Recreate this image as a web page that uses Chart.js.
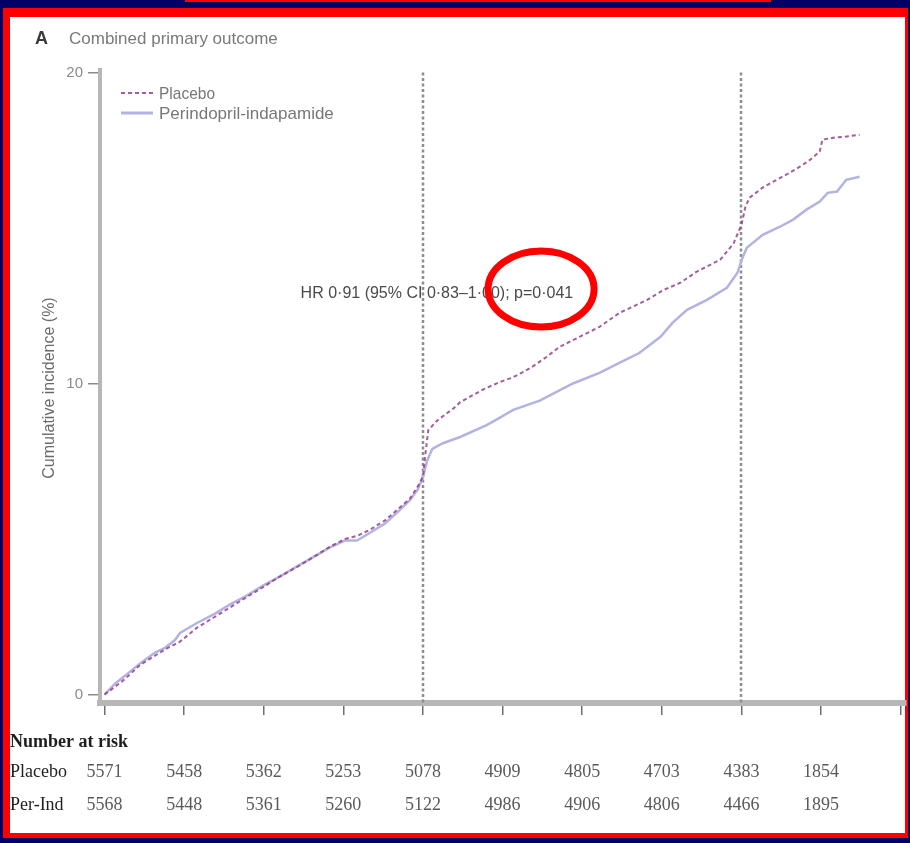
<!DOCTYPE html>
<html>
<head>
<meta charset="utf-8">
<title>Combined primary outcome</title>
<script src="https://cdn.jsdelivr.net/npm/chart.js@4.4.1/dist/chart.umd.min.js"></script>
<style>
  html, body { margin: 0; padding: 0; }
  body { width: 910px; height: 843px; background: #000066; position: relative; overflow: hidden; }
  .topline { position: absolute; left: 185px; top: 0; width: 586px; height: 2px; background: #ff0000; }
  .frame { position: absolute; left: 3px; top: 8px; width: 905px; height: 830px; background: #ff0000; }
  .paper { position: absolute; left: 10px; top: 17px; width: 895px; height: 816px; background: #ffffff; }
  canvas { position: absolute; left: 0; top: 0; }
</style>
</head>
<body>
<div class="topline"></div>
<div class="frame"></div>
<div class="paper"></div>
<canvas id="km" width="910" height="843"></canvas>
<script>
// Cumulative incidence (%) by months of follow-up
const placeboMonths = [0, 0.79, 1.54, 2.68, 3.81, 4.56, 5.69, 6.97, 8.33, 9.46, 10.59, 11.94, 13.23, 14.51,
  15.86, 16.99, 18.12, 19.03, 20.01, 21.14, 22.04, 23.02, 23.62, 24.0, 24.2, 24.4, 25.1, 26.3, 26.8, 28.5,
  29.8, 30.8, 32.1, 33.3, 34.3, 35.8, 37.3, 38.8, 40.9, 42.1, 43.4, 44.6, 46.4, 47.4, 48.0, 48.3, 48.6,
  49.6, 50.4, 51.4, 52.4, 53.2, 53.9, 54.1, 54.9, 55.9, 56.9];
const placeboPct = [0, 0.25, 0.5, 0.95, 1.25, 1.45, 1.7, 2.15, 2.5, 2.8, 3.1, 3.45, 3.8, 4.1,
  4.45, 4.75, 5.0, 5.1, 5.3, 5.6, 5.93, 6.3, 6.7, 7.0, 7.8, 8.5, 8.82, 9.2, 9.4, 9.8,
  10.05, 10.2, 10.5, 10.85, 11.18, 11.5, 11.82, 12.27, 12.69, 13.0, 13.24, 13.59, 13.98, 14.5, 15.1, 15.68, 15.97,
  16.3, 16.49, 16.72, 16.97, 17.2, 17.46, 17.84, 17.9, 17.94, 18.0];

const perIndMonths = [0, 0.79, 1.54, 2.68, 3.81, 4.56, 5.31, 5.69, 6.97, 8.33, 9.46, 10.59, 11.94, 13.23,
  14.51, 15.86, 16.99, 18.12, 19.03, 20.01, 21.14, 22.04, 23.02, 23.62, 24.0, 24.3, 24.7, 25.5, 26.8, 28.8,
  29.8, 30.8, 32.8, 35.3, 37.3, 38.8, 40.3, 41.9, 42.8, 43.9, 45.4, 46.9, 47.7, 48.1, 48.4, 49.6, 50.9,
  51.9, 52.9, 53.9, 54.5, 55.2, 55.9, 56.9];
const perIndPct = [0, 0.35, 0.6, 1.0, 1.35, 1.5, 1.75, 1.98, 2.3, 2.6, 2.9, 3.15, 3.5, 3.8,
  4.12, 4.45, 4.73, 4.95, 4.95, 5.2, 5.5, 5.85, 6.25, 6.6, 7.0, 7.5, 7.9, 8.08, 8.28, 8.66,
  8.9, 9.15, 9.45, 10.0, 10.34, 10.66, 10.98, 11.5, 11.95, 12.37, 12.69, 13.08, 13.56, 14.07, 14.36, 14.78, 15.04,
  15.27, 15.59, 15.85, 16.13, 16.17, 16.55, 16.65];

// Number at risk
const riskMonths = [0, 6, 12, 18, 24, 30, 36, 42, 48, 54];
const placeboRisk = [5571, 5458, 5362, 5253, 5078, 4909, 4805, 4703, 4383, 1854];
const perIndRisk = [5568, 5448, 5361, 5260, 5122, 4986, 4906, 4806, 4466, 1895];

const xTicks = [0, 6, 12, 18, 24, 30, 36, 42, 48, 54, 60];
const yTicks = [0, 10, 20];
const markerMonths = [24, 48];

const seriesNames = ['Placebo', 'Perindopril-indapamide'];
const riskRowNames = ['Placebo', 'Per-Ind'];
const titleLetter = 'A';
const titleText = 'Combined primary outcome';
const yTitle = 'Cumulative incidence (%)';
const hrText = 'HR 0\u00b791 (95% CI 0\u00b783\u20131\u00b700); p=0\u00b7041';
const hrAt = { x: 25.05, y: 12.88 };
const circleAt = { x: 32.9, y: 13.04 };

const toPoints = (xs, ys) => xs.map((x, i) => ({ x: x, y: ys[i] }));

const placeboColor = 'rgba(148,66,136,0.85)';
const perIndColor = '#b3b3e3';

const overlay = {
  id: 'overlay',
  beforeDatasetsDraw(chart) {
    const { ctx, scales: { x, y }, chartArea } = chart;
    ctx.save();
    ctx.strokeStyle = '#8d8d8d';
    ctx.lineWidth = 2.5;
    ctx.setLineDash([3, 2.5]);
    markerMonths.forEach(m => {
      const px = Math.round(x.getPixelForValue(m));
      ctx.beginPath();
      ctx.moveTo(px, y.getPixelForValue(20));
      ctx.lineTo(px, chartArea.bottom);
      ctx.stroke();
    });
    ctx.restore();
  },
  afterDraw(chart) {
    const { ctx, scales: { x, y } } = chart;
    ctx.save();

    // panel heading
    ctx.textBaseline = 'alphabetic';
    ctx.textAlign = 'left';
    ctx.fillStyle = '#3a3a3a';
    ctx.font = 'bold 18px "Liberation Sans", Arial, sans-serif';
    ctx.fillText(titleLetter, 35, 44);
    ctx.fillStyle = '#7a7a7a';
    ctx.font = '17px "Liberation Sans", Arial, sans-serif';
    ctx.fillText(titleText, 69, 44, 212);

    // y axis title
    ctx.save();
    ctx.translate(50, 388);
    ctx.rotate(-Math.PI / 2);
    ctx.textAlign = 'center';
    ctx.textBaseline = 'middle';
    ctx.fillStyle = '#6a6a6a';
    ctx.font = '16px "Liberation Sans", Arial, sans-serif';
    ctx.fillText(yTitle, 0, 0, 200);
    ctx.restore();

    // legend
    const legendRows = [
      { name: seriesNames[0], color: placeboColor, dash: [4, 3], width: 2, y: 94, max: 56 },
      { name: seriesNames[1], color: perIndColor, dash: [], width: 3, y: 114, max: 180 }
    ];
    ctx.font = '17px "Liberation Sans", Arial, sans-serif';
    ctx.textBaseline = 'middle';
    legendRows.forEach(r => {
      ctx.beginPath();
      ctx.setLineDash(r.dash);
      ctx.strokeStyle = r.color;
      ctx.lineWidth = r.width;
      ctx.moveTo(121, r.y - 1);
      ctx.lineTo(153, r.y - 1);
      ctx.stroke();
      ctx.setLineDash([]);
      ctx.fillStyle = '#777777';
      ctx.fillText(r.name, 159, r.y, r.max);
    });

    // hazard ratio annotation
    const hx = x.getPixelForValue(hrAt.x);
    const hy = y.getPixelForValue(hrAt.y);
    ctx.textAlign = 'center';
    ctx.fillStyle = '#4a4a4a';
    ctx.font = '16px "Liberation Sans", Arial, sans-serif';
    ctx.fillText(hrText, hx, hy, 278);

    // highlight ring around the p value
    ctx.beginPath();
    ctx.strokeStyle = '#ff0000';
    ctx.lineWidth = 7;
    ctx.ellipse(x.getPixelForValue(circleAt.x), y.getPixelForValue(circleAt.y), 53, 38, 0, 0, Math.PI * 2);
    ctx.stroke();

    // number at risk table
    ctx.textAlign = 'left';
    ctx.textBaseline = 'middle';
    ctx.fillStyle = '#1e1e1e';
    ctx.font = 'bold 18px "Liberation Serif", "Times New Roman", serif';
    ctx.fillText('Number at risk', 10, 742, 118);
    ctx.font = '18px "Liberation Serif", "Times New Roman", serif';
    ctx.fillText(riskRowNames[0], 10, 772, 62);
    ctx.fillText(riskRowNames[1], 10, 805, 56);
    ctx.textAlign = 'center';
    ctx.fillStyle = '#5a5a5a';
    riskMonths.forEach((m, i) => {
      const px = x.getPixelForValue(m);
      ctx.fillText(String(placeboRisk[i]), px, 772, 38);
      ctx.fillText(String(perIndRisk[i]), px, 805, 38);
    });
    ctx.restore();
  }
};

new Chart(document.getElementById('km'), {
  type: 'line',
  data: {
    datasets: [
      {
        label: seriesNames[0],
        data: toPoints(placeboMonths, placeboPct),
        borderColor: placeboColor,
        borderWidth: 2,
        borderDash: [4, 3],
        pointRadius: 0,
        tension: 0,
        fill: false
      },
      {
        label: seriesNames[1],
        data: toPoints(perIndMonths, perIndPct),
        borderColor: perIndColor,
        borderWidth: 2.5,
        pointRadius: 0,
        tension: 0,
        fill: false
      }
    ]
  },
  options: {
    responsive: false,
    animation: false,
    events: [],
    layout: { padding: { left: 40, top: 70, right: 4, bottom: 100 } },
    plugins: { legend: { display: false }, tooltip: { enabled: false }, title: { display: false } },
    scales: {
      x: {
        type: 'linear',
        min: -0.34,
        max: 60.4,
        afterBuildTicks: s => { s.ticks = xTicks.map(v => ({ value: v })); },
        afterFit: s => { s.height = 40; },
        ticks: { display: false },
        grid: { display: true, drawOnChartArea: false, drawTicks: true, tickLength: 12, color: '#6e6e6e', lineWidth: 1.5 },
        border: { display: true, width: 6, color: '#b7b7b7' }
      },
      y: {
        type: 'linear',
        min: -0.273,
        max: 20.08,
        afterBuildTicks: s => { s.ticks = yTicks.map(v => ({ value: v })); },
        afterFit: s => { s.width = 60; },
        ticks: { color: '#8a8a8a', padding: 5, font: { size: 15, family: '"Liberation Sans", Arial, sans-serif' } },
        grid: { display: true, drawOnChartArea: false, drawTicks: true, tickLength: 12, color: '#8a8a8a', lineWidth: 1.5 },
        border: { display: true, width: 4, color: '#b7b7b7' }
      }
    }
  },
  plugins: [overlay]
});
</script>
</body>
</html>
